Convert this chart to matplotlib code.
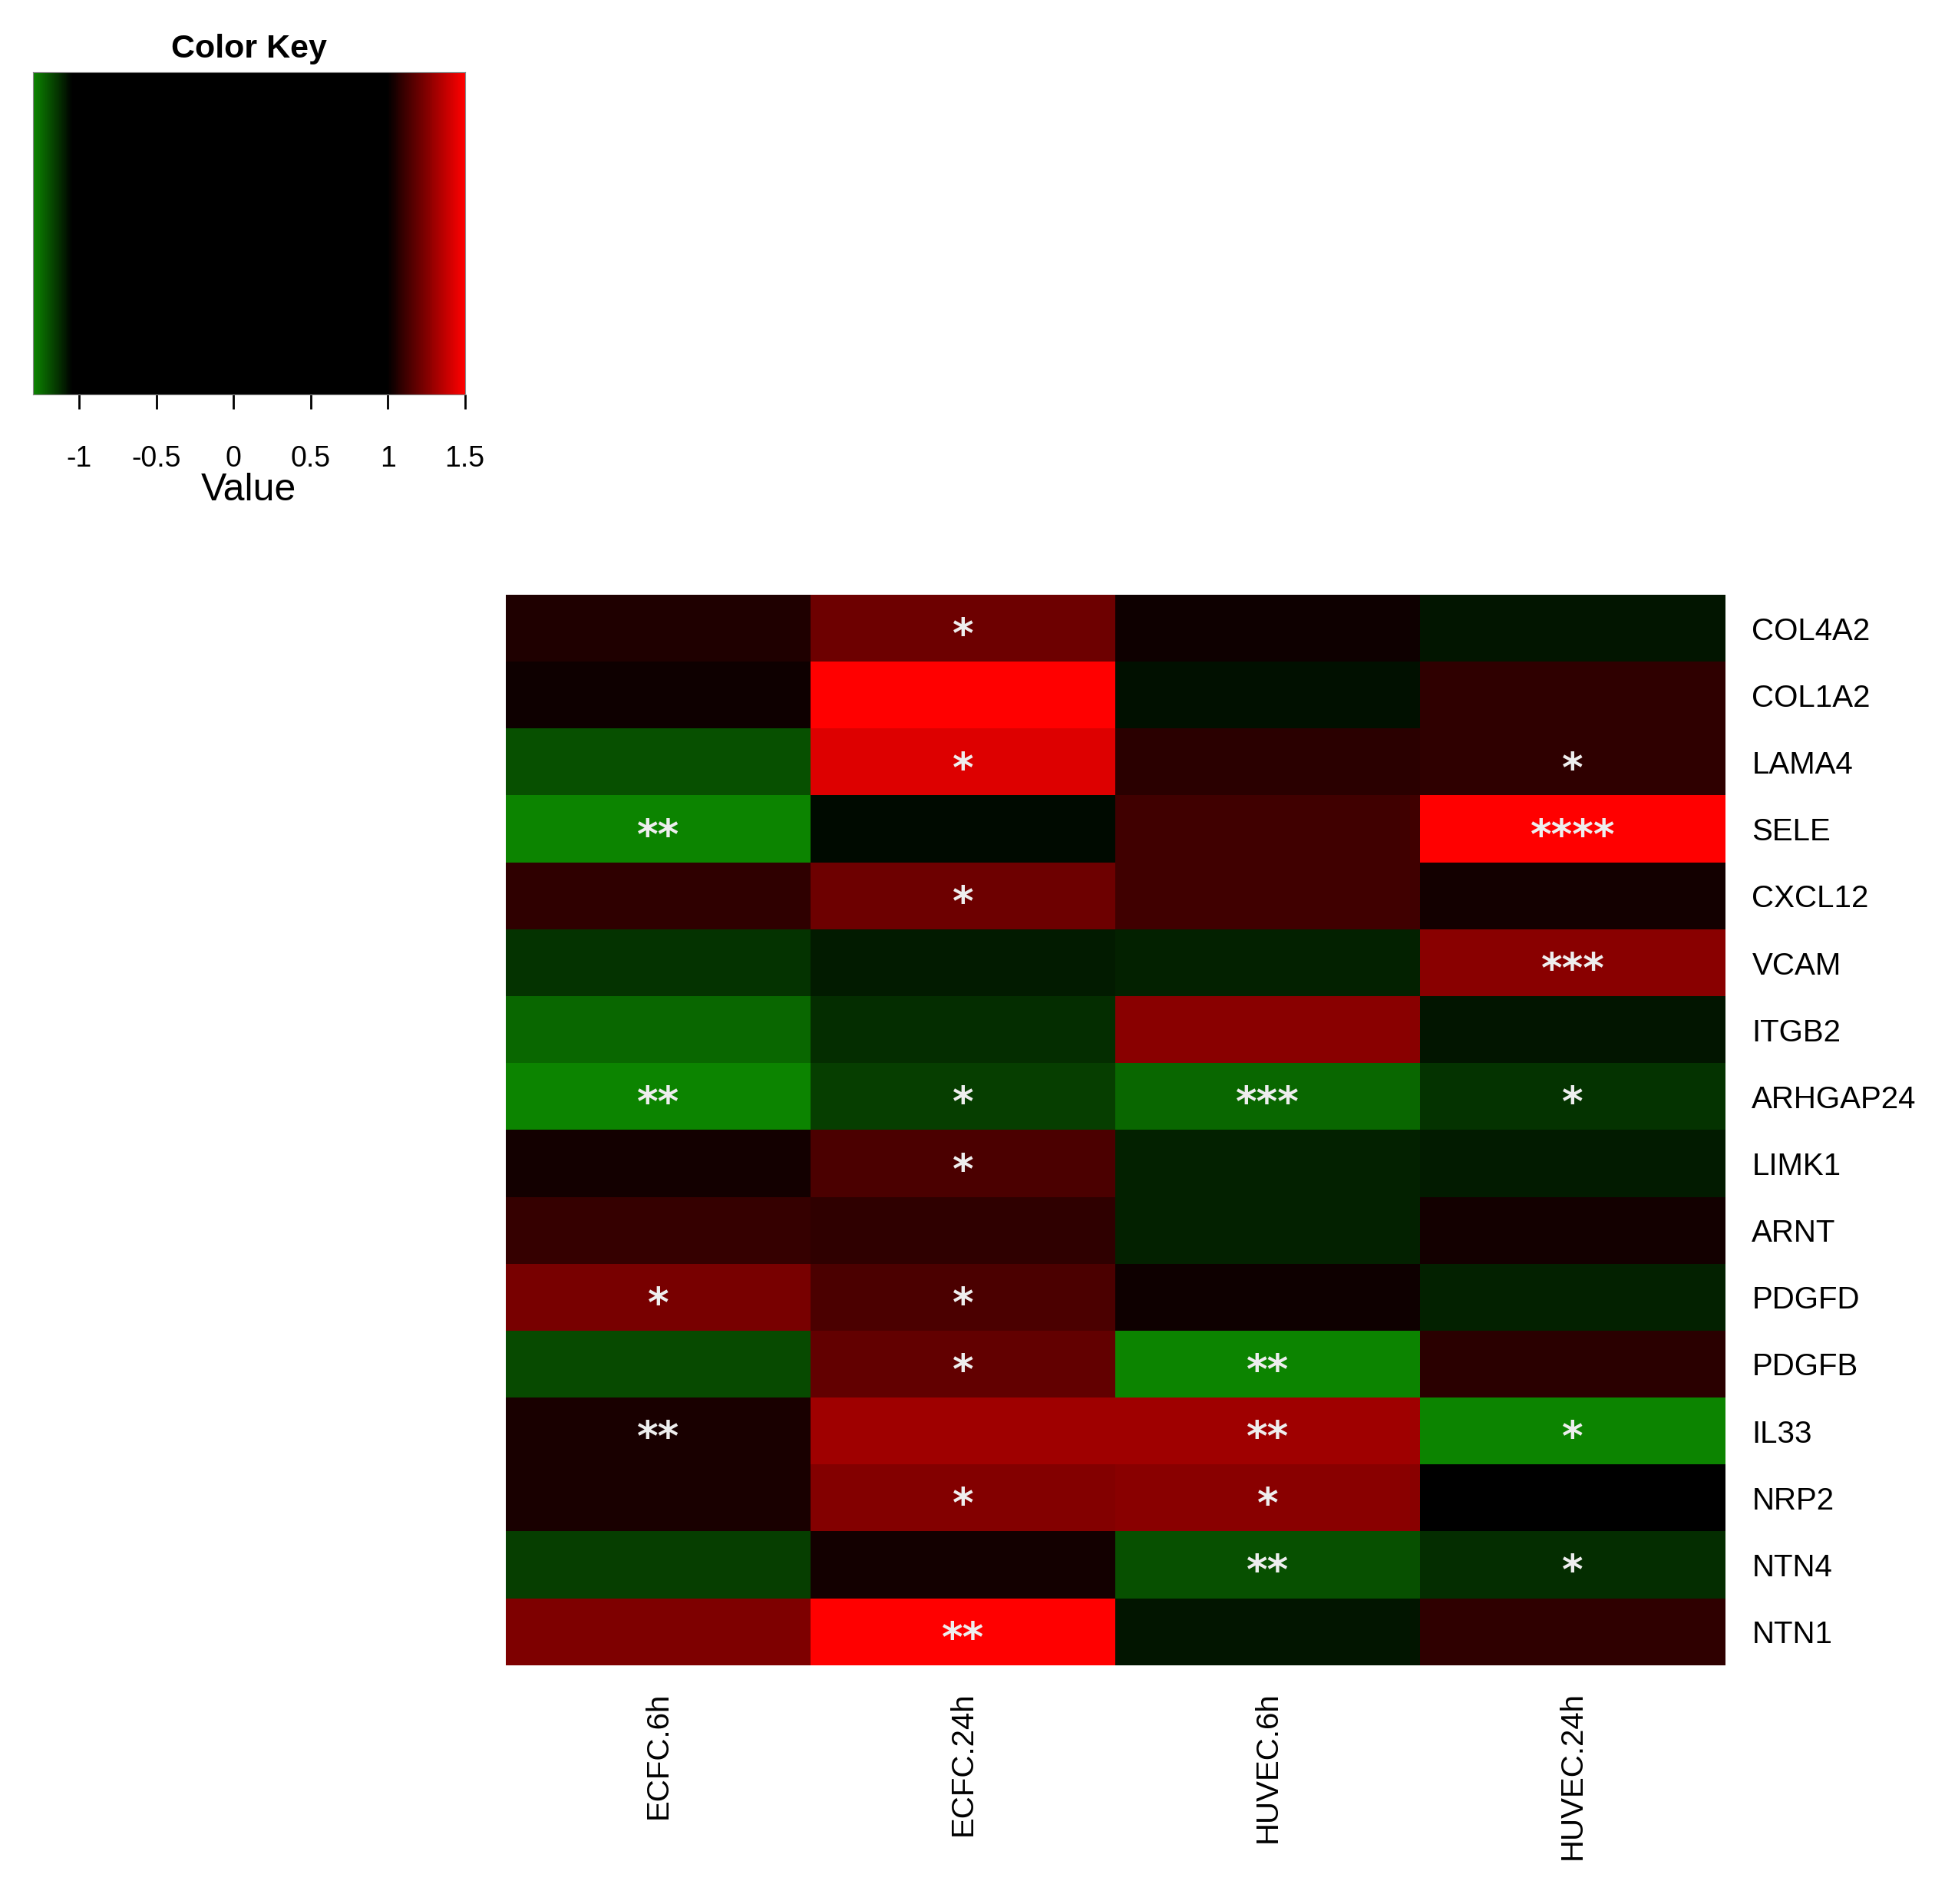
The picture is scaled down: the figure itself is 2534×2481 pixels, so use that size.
import matplotlib
matplotlib.use("Agg")
import matplotlib.pyplot as plt
import numpy as np
from matplotlib.colors import LinearSegmentedColormap

plt.rcParams['font.family'] = ['Liberation Sans', 'DejaVu Sans']

genes = ["COL4A2", "COL1A2", "LAMA4", "SELE", "CXCL12", "VCAM", "ITGB2", "ARHGAP24",
         "LIMK1", "ARNT", "PDGFD", "PDGFB", "IL33", "NRP2", "NTN4", "NTN1"]
samples = ["ECFC.6h", "ECFC.24h", "HUVEC.6h", "HUVEC.24h"]
values = [
    [1.06, 1.21, 1.02, -1.09],
    [1.02, 1.50, -1.08, 1.09],
    [-1.20, 1.43, 1.08, 1.09],
    [-1.30, -1.07, 1.12, 1.50],
    [1.09, 1.21, 1.12, 1.04],
    [-1.14, -1.10, -1.11, 1.26],
    [-1.24, -1.13, 1.27, -1.09],
    [-1.30, -1.16, -1.24, -1.14],
    [1.03, 1.14, -1.11, -1.10],
    [1.10, 1.09, -1.11, 1.03],
    [1.23, 1.14, 1.02, -1.11],
    [-1.18, 1.19, -1.30, 1.08],
    [1.05, 1.31, 1.31, -1.30],
    [1.05, 1.25, 1.27, 0.0],
    [-1.16, 1.04, -1.20, -1.13],
    [1.24, 1.50, -1.09, 1.09],
]
stars = [
    ["", "*", "", ""],
    ["", "", "", ""],
    ["", "*", "", "*"],
    ["**", "", "", "****"],
    ["", "*", "", ""],
    ["", "", "", "***"],
    ["", "", "", ""],
    ["**", "*", "***", "*"],
    ["", "*", "", ""],
    ["", "", "", ""],
    ["*", "*", "", ""],
    ["", "*", "**", ""],
    ["**", "", "**", "*"],
    ["", "*", "*", ""],
    ["", "", "**", "*"],
    ["", "**", "", ""],
]

vmin, vmax = -1.3, 1.5
def pos(v):
    return (v - vmin) / (vmax - vmin)
cmap = LinearSegmentedColormap.from_list("rg", [
    (0.0, (0.05, 0.52, 0)), (pos(-1.05), (0, 0, 0)), (pos(1.0), (0, 0, 0)), (1.0, (1, 0, 0))])

fig = plt.figure(figsize=(25.34, 24.81), dpi=100)

# heatmap
ax = fig.add_axes([0.26, 0.1255, 0.627, 0.562])
data = np.array(values)
ax.imshow(data, cmap=cmap, vmin=vmin, vmax=vmax, aspect="auto", interpolation="nearest")
for i in range(len(genes)):
    for j in range(len(samples)):
        if stars[i][j]:
            ax.text(j, i + 0.12, stars[i][j], ha="center", va="center", color="#eeeeee",
                    fontsize=38, fontweight="bold", family="DejaVu Sans")
ax.set_xticks(range(len(samples)))
ax.set_xticklabels(samples, rotation=90, fontsize=29)
ax.set_yticks(range(len(genes)))
ax.set_yticklabels(genes, fontsize=29)
ax.yaxis.tick_right()
ax.tick_params(length=0, pad=25)
for s in ax.spines.values():
    s.set_visible(False)

# color key
kax = fig.add_axes([0.017, 0.793, 0.222, 0.169])
grad = np.linspace(vmin, vmax, 500).reshape(1, -1)
kax.imshow(grad, cmap=cmap, vmin=vmin, vmax=vmax, aspect="auto",
           extent=[vmin, vmax, 0, 1])
kax.set_yticks([])
kax.set_xticks([-1, -0.5, 0, 0.5, 1, 1.5])
kax.set_xticklabels(["-1", "-0.5", "0", "0.5", "1", "1.5"], fontsize=27)
kax.tick_params(axis="x", length=14, width=2, pad=34)
kax.set_xlabel("Value", fontsize=36, labelpad=0)
kax.set_title("Color Key", fontsize=31, fontweight="bold", pad=14)
for s in kax.spines.values():
    s.set_color("#888888")

fig.savefig("out.png", dpi=100)
